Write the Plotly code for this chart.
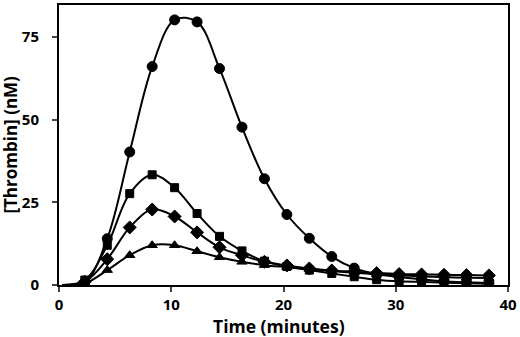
import plotly.graph_objects as go

time_min = [0.3, 2.3, 4.3, 6.3, 8.3, 10.3, 12.3, 14.3, 16.3, 18.3, 20.3, 22.3, 24.3, 26.3, 28.3, 30.3, 32.3, 34.3, 36.3, 38.3]
circle_vals = [0.0, 0.8, 14.0, 40.2, 66.0, 80.1, 79.5, 65.4, 47.7, 32.1, 21.3, 14.1, 8.6, 5.1, 3.3, 2.4, 1.7, 1.1, 0.8, 0.6]
square_vals = [0.0, 1.5, 12.0, 27.6, 33.3, 29.4, 21.6, 14.7, 10.3, 7.2, 5.6, 4.5, 3.5, 2.5, 1.6, 1.1, 0.9, 0.7, 0.5, 0.4]
diamond_vals = [0.0, 1.0, 7.8, 17.4, 22.8, 20.7, 15.9, 11.4, 9.0, 7.0, 5.9, 5.0, 4.4, 4.0, 3.6, 3.3, 3.2, 3.1, 3.0, 2.9]
triangle_vals = [0.0, 0.5, 4.5, 9.0, 12.0, 12.0, 10.2, 8.4, 7.0, 6.0, 5.4, 4.8, 4.2, 3.7, 3.2, 2.9, 2.6, 2.4, 2.2, 2.1]

x_ticks = [0, 10, 20, 30, 40]
y_ticks = [0, 25, 50, 75]
x_title = "Time (minutes)"
y_title = "[Thrombin] (nM)"

series = [
    (circle_vals, "circle", 10),
    (square_vals, "square", 8),
    (diamond_vals, "diamond", 10),
    (triangle_vals, "triangle-up", 9),
]

fig = go.Figure()
for vals, sym, sz in series:
    sizes = [0] + [sz] * (len(time_min) - 1)
    fig.add_trace(go.Scatter(
        x=time_min, y=vals, mode="lines+markers",
        line=dict(color="black", width=2, shape="spline", smoothing=1.0),
        marker=dict(symbol=sym, size=sizes, color="black", opacity=1,
                    line=dict(width=1, color="black")),
        showlegend=False,
    ))

font_family = "Open Sans"
fig.update_layout(
    width=520, height=337,
    margin=dict(l=59, r=11, t=3, b=52),
    paper_bgcolor="white", plot_bgcolor="white",
    font=dict(family=font_family, color="black"),
    annotations=[
        dict(text="<b>" + x_title + "</b>", xref="paper", yref="paper",
             x=0.49, y=-0.147, xanchor="center", yanchor="middle", showarrow=False,
             font=dict(size=17.5, family=font_family, color="black")),
        dict(text="<b>" + y_title + "</b>", xref="paper", yref="paper",
             x=-0.11, y=0.5, xanchor="center", yanchor="middle", showarrow=False,
             textangle=-90, font=dict(size=17, family=font_family, color="black")),
    ],
)
fig.update_xaxes(
    range=[0, 40], tickvals=x_ticks, ticks="outside", ticklen=5, tickwidth=2,
    showline=True, linecolor="black", linewidth=2, mirror=True, showgrid=False, zeroline=False,
    tickfont=dict(size=15, family=font_family, weight="bold"), ticklabelstandoff=0,
)
fig.update_yaxes(
    range=[0, 84.6], tickvals=y_ticks, ticks="outside", ticklen=5, tickwidth=2,
    showline=True, linecolor="black", linewidth=2, mirror=True, showgrid=False, zeroline=False,
    tickfont=dict(size=15, family=font_family, weight="bold"), ticklabelstandoff=10,
)
fig.write_html("out.html", config={"displayModeBar": False},
               post_script="document.body.style.margin='0';")
